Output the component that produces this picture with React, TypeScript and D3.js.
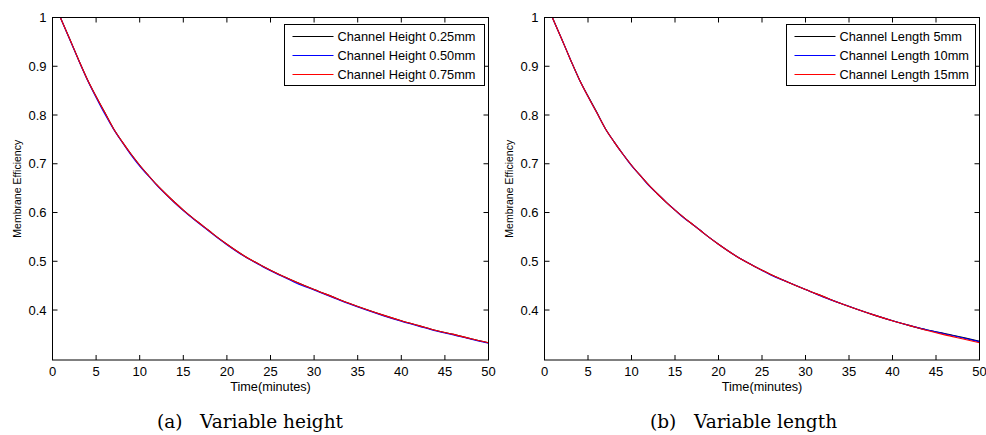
import React from "react";
import * as d3 from "d3";

// Sample times (minutes) shared by every series
const time = [0.9, 2, 3, 4, 5, 6, 7, 8, 9, 10, 11, 12, 13, 14, 15, 16, 17, 18, 19, 20, 22, 24, 26, 28, 30, 32, 34, 36, 38, 40, 42, 44, 46, 48, 50];

// (a) membrane efficiency for each channel height
const height025 = [1.0, 0.955, 0.913, 0.873, 0.838, 0.805, 0.772, 0.745, 0.72, 0.697, 0.676, 0.656, 0.638, 0.621, 0.605, 0.59, 0.576, 0.562, 0.548, 0.535, 0.511, 0.491, 0.473, 0.457, 0.442, 0.428, 0.414, 0.401, 0.389, 0.378, 0.368, 0.358, 0.35, 0.341, 0.333];
const height050 = [1.0, 0.954, 0.912, 0.872, 0.836, 0.802, 0.771, 0.744, 0.718, 0.695, 0.675, 0.655, 0.637, 0.62, 0.604, 0.589, 0.575, 0.561, 0.547, 0.534, 0.51, 0.49, 0.472, 0.455, 0.441, 0.427, 0.413, 0.4, 0.388, 0.377, 0.367, 0.357, 0.349, 0.34, 0.332];
const height075 = [1.0, 0.955, 0.913, 0.873, 0.838, 0.805, 0.772, 0.745, 0.72, 0.697, 0.676, 0.656, 0.638, 0.621, 0.605, 0.59, 0.576, 0.562, 0.548, 0.535, 0.511, 0.491, 0.473, 0.457, 0.442, 0.428, 0.414, 0.401, 0.389, 0.378, 0.368, 0.358, 0.35, 0.341, 0.333];

// (b) membrane efficiency for each channel length
const length5 = [1.0, 0.955, 0.913, 0.873, 0.839, 0.806, 0.772, 0.745, 0.72, 0.697, 0.676, 0.656, 0.638, 0.621, 0.605, 0.59, 0.576, 0.562, 0.548, 0.535, 0.511, 0.491, 0.473, 0.457, 0.442, 0.428, 0.414, 0.401, 0.389, 0.378, 0.368, 0.359, 0.352, 0.344, 0.336];
const length10 = [1.0, 0.955, 0.913, 0.873, 0.838, 0.805, 0.772, 0.745, 0.72, 0.696, 0.676, 0.655, 0.638, 0.621, 0.605, 0.589, 0.576, 0.562, 0.548, 0.535, 0.511, 0.491, 0.472, 0.457, 0.442, 0.427, 0.414, 0.401, 0.389, 0.378, 0.368, 0.359, 0.351, 0.343, 0.335];
const length15 = [1.0, 0.955, 0.913, 0.873, 0.838, 0.805, 0.772, 0.745, 0.72, 0.697, 0.676, 0.656, 0.638, 0.621, 0.605, 0.59, 0.576, 0.562, 0.548, 0.535, 0.511, 0.491, 0.473, 0.457, 0.442, 0.428, 0.414, 0.401, 0.389, 0.378, 0.368, 0.358, 0.349, 0.341, 0.333];

const heightLabels = ["Channel Height 0.25mm", "Channel Height 0.50mm", "Channel Height 0.75mm"];
const lengthLabels = ["Channel Length 5mm", "Channel Length 10mm", "Channel Length 15mm"];
const seriesColors = ["#000000", "#0000ff", "#ff0000"];

const xTicks = [0, 5, 10, 15, 20, 25, 30, 35, 40, 45, 50];
const yTicks = [0.4, 0.5, 0.6, 0.7, 0.8, 0.9, 1];

const xLabel = "Time(minutes)";
const yLabel = "Membrane Efficiency";

const UI_FONT = "Arial, 'Liberation Sans', Helvetica, sans-serif";

type PanelProps = {
  left: number;
  right: number;
  top: number;
  bottom: number;
  series: number[][];
  labels: string[];
  legendBox: [number, number, number, number];
  caption: [string, string];
  captionX: [number, number];
};

function Panel({ left, right, top, bottom, series, labels, legendBox, caption, captionX }: PanelProps) {
  const x = d3.scaleLinear().domain([0, 50]).range([left, right]);
  const y = d3.scaleLinear().domain([0.2975, 1]).range([bottom, top]);
  const line = d3
    .line<number>()
    .x((_, i) => x(time[i]))
    .y((v) => y(v))
    .curve(d3.curveMonotoneX);
  const tick = 5;
  const [lx0, ly0, lx1, ly1] = legendBox;
  return (
    <g>
      {series.map((s, i) => (
        <path key={i} d={line(s) ?? ""} fill="none" stroke={seriesColors[i]} strokeWidth={1.1} />
      ))}
      <rect x={left} y={top} width={right - left} height={bottom - top} fill="none" stroke="#000" strokeWidth={1} />
      {xTicks.map((t) => (
        <g key={"x" + t}>
          <line x1={x(t)} x2={x(t)} y1={bottom} y2={bottom - tick} stroke="#000" />
          <line x1={x(t)} x2={x(t)} y1={top} y2={top + tick} stroke="#000" />
          <text x={x(t)} y={376} textAnchor="middle" fontSize={13} fontFamily={UI_FONT} fill="#000">
            {t}
          </text>
        </g>
      ))}
      {yTicks.map((t) => (
        <g key={"y" + t}>
          <line x1={left} x2={left + tick} y1={y(t)} y2={y(t)} stroke="#000" />
          <line x1={right} x2={right - tick} y1={y(t)} y2={y(t)} stroke="#000" />
          <text x={left - 6} y={y(t) + 4.5} textAnchor="end" fontSize={13} fontFamily={UI_FONT} fill="#000">
            {t}
          </text>
        </g>
      ))}
      <text x={(left + right) / 2} y={391} textAnchor="middle" fontSize={12.7} fontFamily={UI_FONT} fill="#000">
        {xLabel}
      </text>
      <text
        transform={`translate(${left - 32},${(top + bottom) / 2}) rotate(-90)`}
        textAnchor="middle"
        fontSize={10.5}
        fontFamily={UI_FONT}
        fill="#000"
      >
        {yLabel}
      </text>
      <rect x={lx0} y={ly0} width={lx1 - lx0} height={ly1 - ly0} fill="#fff" stroke="#000" strokeWidth={1} />
      {labels.map((lab, i) => {
        const cy = ly0 + 12 + i * 19;
        return (
          <g key={lab}>
            <line x1={lx0 + 8} x2={lx0 + 49} y1={cy} y2={cy} stroke={seriesColors[i]} strokeWidth={1.1} />
            <text x={lx0 + 53} y={cy + 4.5} fontSize={12.8} fontFamily={UI_FONT} fill="#000">
              {lab}
            </text>
          </g>
        );
      })}
      <text x={captionX[0]} y={428} fontSize={18.5} fontFamily="'DejaVu Serif', serif" fill="#000">
        {caption[0]}
      </text>
      <text x={captionX[1]} y={428} fontSize={18.5} fontFamily="'DejaVu Serif', serif" fill="#000">
        {caption[1]}
      </text>
    </g>
  );
}

export default function App() {
  return (
    <svg
      width={986}
      height={435}
      style={{ position: "absolute", left: 0, top: 0, display: "block", background: "#fff" }}
    >
      <rect x={0} y={0} width={986} height={435} fill="#fff" />
      <Panel
        left={52.5}
        right={488.5}
        top={17.5}
        bottom={360}
        series={[height025, height050, height075]}
        labels={heightLabels}
        legendBox={[284.5, 24.5, 484.5, 85.5]}
        caption={["(a)", "Variable height"]}
        captionX={[157, 200]}
      />
      <Panel
        left={544.5}
        right={979.5}
        top={17.5}
        bottom={360}
        series={[length5, length10, length15]}
        labels={lengthLabels}
        legendBox={[786.5, 24.5, 975.5, 85.5]}
        caption={["(b)", "Variable length"]}
        captionX={[650, 694]}
      />
    </svg>
  );
}
